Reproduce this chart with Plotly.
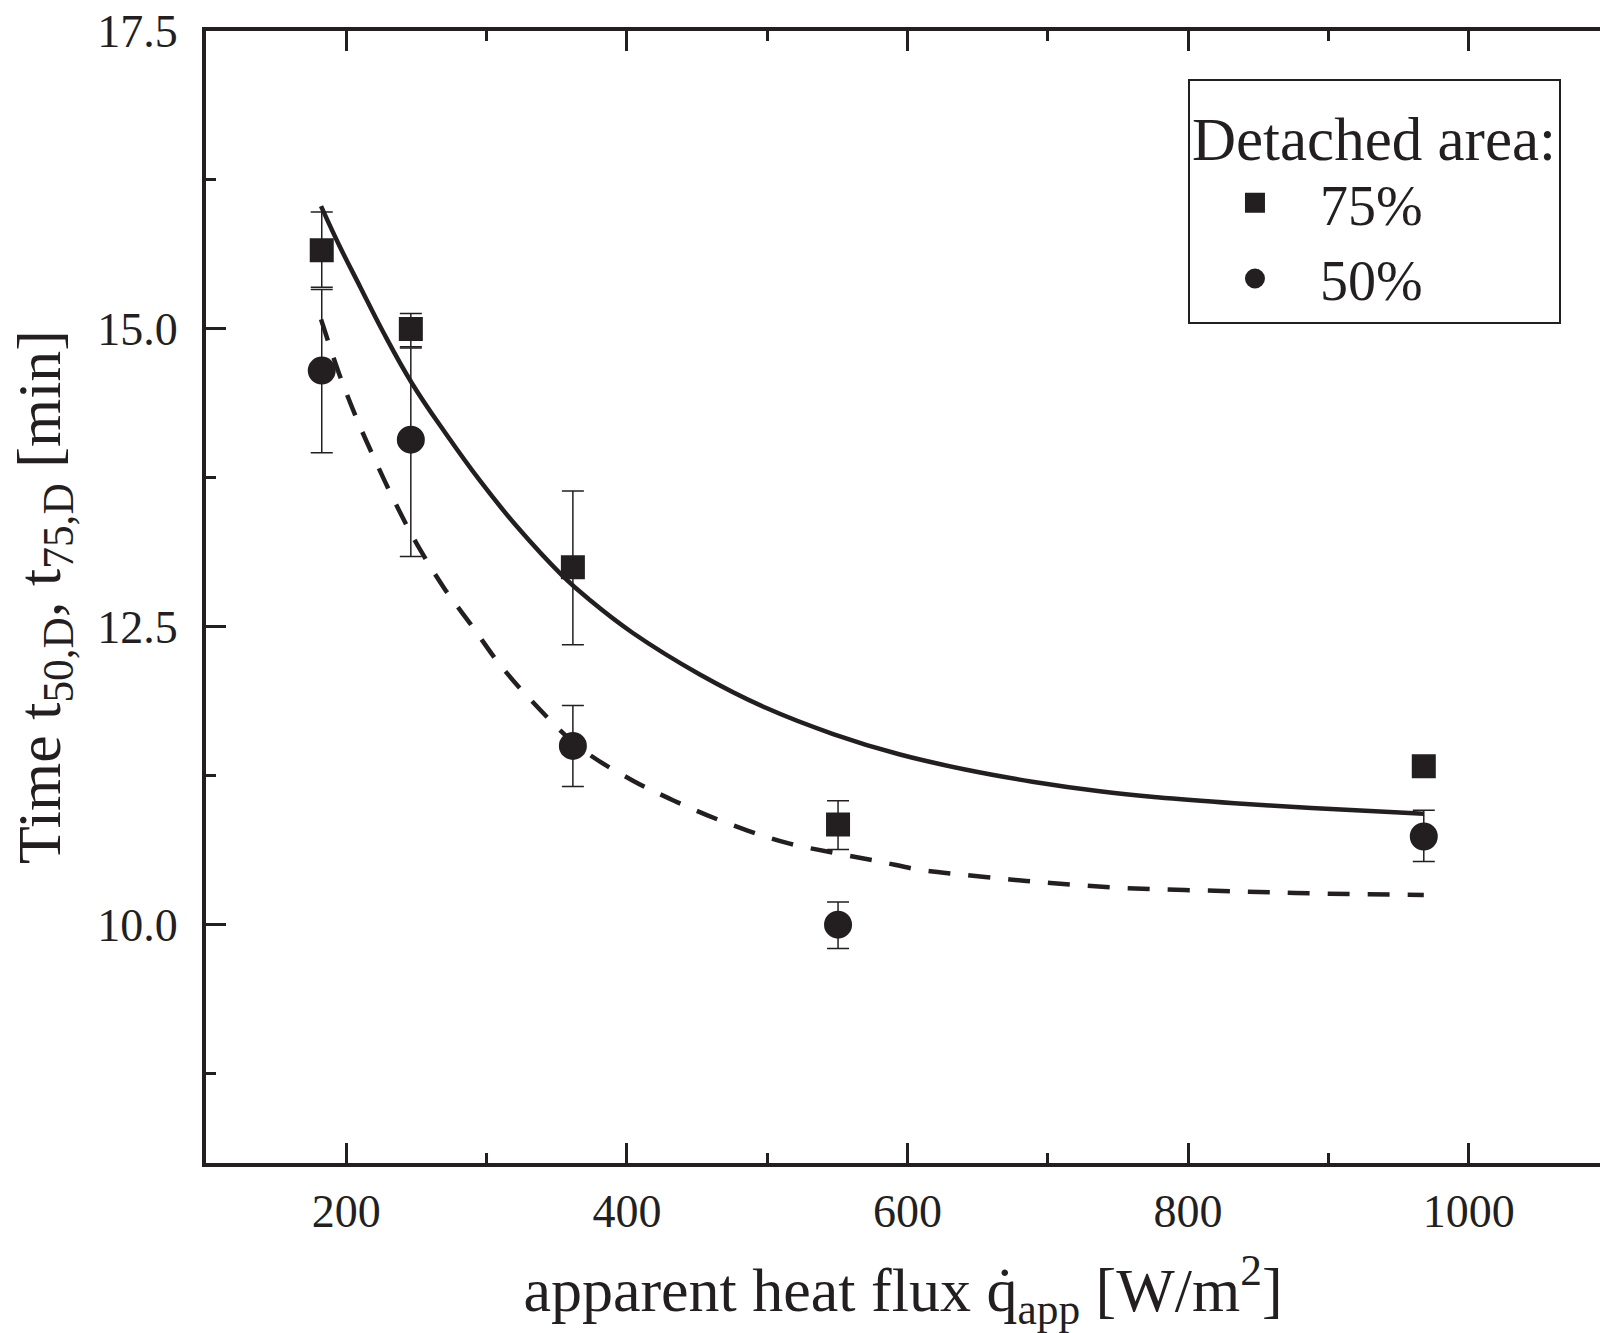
import plotly.graph_objects as go

# ---- data ----
heat_flux = [182.5, 246, 361.5, 550.5, 968]

t75 = [15.66, 15.00, 13.00, 10.84, 11.33]
t75_err_plus = [0.32, 0.13, 0.64, 0.20, 0.0]
t75_err_minus = [0.31, 0.15, 0.65, 0.21, 0.0]

t50 = [14.65, 14.07, 11.50, 10.00, 10.74]
t50_err_plus = [0.68, 0.77, 0.34, 0.19, 0.22]
t50_err_minus = [0.69, 0.98, 0.34, 0.20, 0.21]

# fitted curves
fit75_x = [182, 195, 210, 226, 247, 271, 295, 321, 354, 373, 404, 452, 499, 547, 594, 642,
           689, 737, 778, 833, 888, 968]
fit75_y = [16.03, 15.70, 15.35, 14.98, 14.54, 14.12, 13.73, 13.35, 12.93, 12.73, 12.45, 12.10,
           11.82, 11.60, 11.43, 11.30, 11.20, 11.12, 11.07, 11.02, 10.98, 10.93]

fit50_x = [182, 195, 208, 222, 237, 252, 270, 290, 309, 332, 366, 404, 430, 457, 486, 516,
           549, 580, 609, 639, 673, 702, 751, 833, 900, 968]
fit50_y = [15.08, 14.62, 14.23, 13.86, 13.49, 13.16, 12.82, 12.50, 12.19, 11.88, 11.49, 11.21,
           11.06, 10.92, 10.79, 10.68, 10.60, 10.53, 10.46, 10.42, 10.38, 10.35, 10.31, 10.28,
           10.26, 10.25]

legend_title = "Detached area:"
name75 = "75%"
name50 = "50%"
x_title = "apparent heat flux q\u0307<sub>app</sub> [W/m<sup>2</sup>]"
y_title = "Time t<sub>50,D</sub>, t<sub>75,D</sub> [min]"

INK = "#231f20"
FONT = "Liberation Serif"

fig = go.Figure()

fig.add_trace(go.Scatter(x=fit75_x, y=fit75_y, mode="lines", showlegend=False,
                         line=dict(color=INK, width=4.5, shape="spline", smoothing=1.2)))
fig.add_trace(go.Scatter(x=fit50_x, y=fit50_y, mode="lines", showlegend=False,
                         line=dict(color=INK, width=4.5, dash="22px,18px", shape="spline",
                                   smoothing=1.0)))

fig.add_trace(go.Scatter(
    x=heat_flux, y=t75, mode="markers", name=name75,
    marker=dict(symbol="square", size=20, color=INK, line=dict(color=INK, width=4)),
    error_y=dict(type="data", symmetric=False, array=t75_err_plus, arrayminus=t75_err_minus,
                 color=INK, thickness=1.5, width=11)))
fig.add_trace(go.Scatter(
    x=heat_flux, y=t50, mode="markers", name=name50,
    marker=dict(symbol="circle", size=24, color=INK, line=dict(color=INK, width=4)),
    error_y=dict(type="data", symmetric=False, array=t50_err_plus, arrayminus=t50_err_minus,
                 color=INK, thickness=1.5, width=11)))

tick_common = dict(ticks="inside", ticklen=20, tickwidth=2.5, tickcolor=INK,
                   showgrid=False, zeroline=False, automargin=False)

fig.update_layout(
    width=1600, height=1333,
    margin=dict(l=206, r=0, t=31, b=170, autoexpand=False),
    plot_bgcolor="white", paper_bgcolor="white",
    font=dict(family=FONT, color=INK),
    xaxis=dict(range=[100, 1093.6], tick0=0, dtick=200, **tick_common,
               showline=True, linewidth=4, linecolor=INK, mirror="ticks",
               minor=dict(dtick=100, ticks="inside", ticklen=10, tickwidth=2.5, tickcolor=INK),
               tickfont=dict(size=46, family=FONT, color=INK), ticklabelstandoff=5,
               title=dict(text=x_title, font=dict(size=62, family=FONT, color=INK), standoff=33)),
    yaxis=dict(range=[8, 17.5], tick0=10, dtick=2.5, tickformat=".1f", **tick_common,
               showline=True, linewidth=4, linecolor=INK, mirror=False,
               minor=dict(dtick=1.25, ticks="inside", ticklen=10, tickwidth=2.5, tickcolor=INK),
               tickfont=dict(size=46, family=FONT, color=INK), ticklabelstandoff=15,
               title=dict(text=y_title, font=dict(size=62, family=FONT, color=INK), standoff=18)),
    yaxis2=dict(range=[8, 17.5], tick0=10, dtick=2.5, overlaying="y", side="right", anchor="x",
                **tick_common, showline=False, showticklabels=False,
                minor=dict(dtick=1.25, ticks="inside", ticklen=10, tickwidth=2.5, tickcolor=INK)),
    legend=dict(
        title=dict(text=legend_title, font=dict(size=61, family=FONT, color=INK)),
        font=dict(size=56, family=FONT, color=INK),
        x=0.972, xanchor="right", y=0.958, yanchor="top",
        bgcolor="white", bordercolor=INK, borderwidth=2,
        itemsizing="trace", itemwidth=120, tracegroupgap=0),
)

fig.write_html("out.html", config={"displayModeBar": False},
               post_script="document.body.style.margin='0px';document.body.style.overflow='hidden';")
